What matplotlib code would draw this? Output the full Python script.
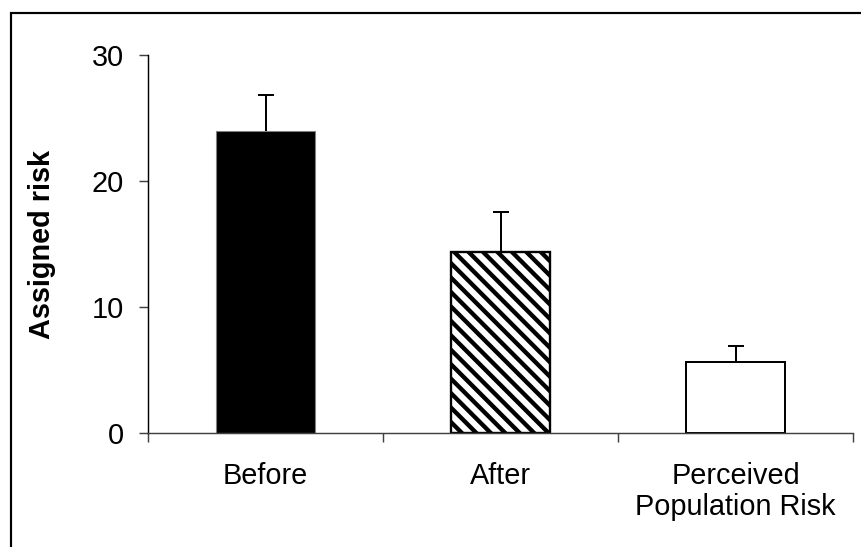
import matplotlib
matplotlib.use("Agg")
import matplotlib.pyplot as plt
from matplotlib.patches import Rectangle
from matplotlib.ticker import FixedLocator

categories = ["Before", "After", "Perceived\nPopulation Risk"]
risk = [24.0, 14.4, 5.6]
err_up = [2.8, 3.1, 1.3]
yticks = [0, 10, 20, 30]

plt.rcParams['font.family'] = ['Liberation Sans', 'DejaVu Sans']
plt.rcParams['hatch.linewidth'] = 2.4

dpi = 130
fig = plt.figure(figsize=(861 / dpi, 547 / dpi), dpi=dpi)
ax = fig.add_axes([148 / 861, 1 - 433 / 547, 705 / 861, 378 / 547])

x = list(range(len(categories)))
faces = ["black", "white", "white"]
edges = ["#808080", "black", "black"]
hatches = [None, "\\\\\\", None]
lws = [0.6, 1.3, 1.1]
for i in x:
    ax.bar(x[i], risk[i], width=0.42, color=faces[i], edgecolor=edges[i],
           hatch=hatches[i], linewidth=lws[i], zorder=2)

# upper error bars only, cap drawn at the top
tops = [r + e for r, e in zip(risk, err_up)]
ax.vlines(x, risk, tops, colors="black", linewidth=1.1, zorder=3)
ax.plot(x, tops, linestyle="none", marker="_", markersize=9.4,
        markeredgewidth=1.1, color="black", zorder=3)

ax.set_xlim(-0.5, 2.5)
ax.set_ylim(0, 30)
ax.set_yticks(yticks)
ax.set_xticks(x)
ax.set_xticklabels(categories, fontsize=16, linespacing=1.15)
ax.xaxis.set_minor_locator(FixedLocator([-0.5, 0.5, 1.5, 2.5]))
ax.tick_params(axis="x", which="major", length=0, pad=16)
ax.tick_params(axis="x", which="minor", length=5, width=0.8, direction="out", color="#404040")
ax.tick_params(axis="y", length=5, width=0.8, direction="out", pad=8.5, labelsize=16, color="#404040")

for s in ["top", "right"]:
    ax.spines[s].set_visible(False)
ax.spines["left"].set_linewidth(0.8)
ax.spines["bottom"].set_linewidth(0.8)
ax.spines["bottom"].set_color("#404040")

ax.set_ylabel("Assigned risk", fontsize=16, fontweight="bold")
ax.yaxis.set_label_coords((56 - 148) / 705, 0.5)

fig.patches.append(Rectangle((11 / 861, -0.2), 1.5, 1 - 12.5 / 547 + 0.2,
                             transform=fig.transFigure, fill=False,
                             edgecolor="black", linewidth=1.2))

fig.savefig("out.png", dpi=dpi)
